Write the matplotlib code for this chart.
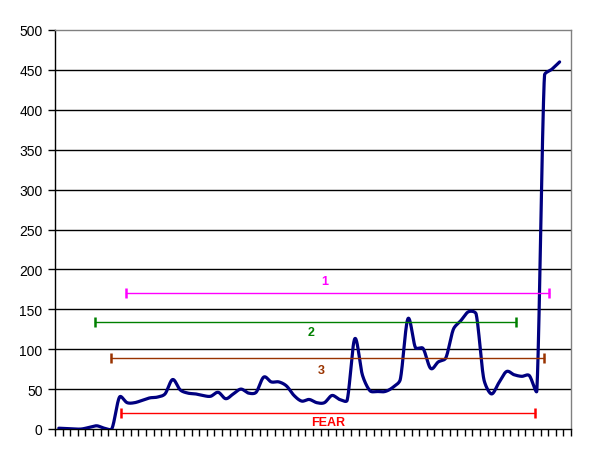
import numpy as np
import matplotlib
matplotlib.use("Agg")
import matplotlib.pyplot as plt

# ---- data ----
values = [1, 0.5, 0, 0, 2, 4, 1, 0.5, 40, 33, 33, 36, 39, 40, 44, 62, 49, 45, 44, 42,
          41, 46, 38, 44, 50, 45, 46, 65, 59, 59, 54, 42, 35, 37, 33, 33, 42, 37, 36, 113,
          68, 48, 47, 47, 52, 62, 138, 102, 101, 76, 84, 89, 125, 136, 147, 144, 63, 44, 58, 72,
          68, 66, 67, 48, 443, 451, 460]
n_categories = 68

range_labels = ["1", "2", "3", "FEAR"]
range_start = [8.85, 4.73, 6.87, 8.15]
range_end = [64.55, 60.2, 63.9, 62.75]
range_level = [171, 134, 89, 20]
label_x = [35.05, 33.3, 34.6, 35.45]
label_y = [186, 121, 74, 9]
range_colors = ["#FF00FF", "#008000", "#993300", "#FF0000"]

yticks = list(range(0, 501, 50))

plt.rcParams['font.family'] = ['Liberation Sans', 'DejaVu Sans']

fig = plt.figure(figsize=(6, 4.6), dpi=100)
ax = fig.add_axes([55/600, 30/460, 516/600, 399/460])
ax.set_xlim(-0.5, n_categories - 0.5)
ax.set_ylim(0, 500)


def smooth_display(ax, xs, ys, steps=24, clamp=0.35):
    """Catmull-Rom style smoothing in display space with clamped handles."""
    pts = ax.transData.transform(np.column_stack([xs, ys]))
    n = len(pts)
    out = []
    for i in range(n - 1):
        p1, p2 = pts[i], pts[i + 1]
        p0 = pts[i - 1] if i > 0 else p1
        p3 = pts[i + 2] if i + 2 < n else p2
        seg = np.linalg.norm(p2 - p1)
        h1 = (p2 - p0) / 6
        h2 = (p3 - p1) / 6
        l1 = np.linalg.norm(h1)
        l2 = np.linalg.norm(h2)
        lim = clamp * seg
        if l1 > lim and l1 > 0:
            h1 = h1 * lim / l1
        if l2 > lim and l2 > 0:
            h2 = h2 * lim / l2
        c1 = p1 + h1
        c2 = p2 - h2
        t = np.linspace(0, 1, steps, endpoint=(i == n - 2))[:, None]
        seg_pts = ((1 - t) ** 3) * p1 + 3 * ((1 - t) ** 2) * t * c1 + 3 * (1 - t) * t ** 2 * c2 + t ** 3 * p2
        out.append(seg_pts)
    out = np.vstack(out)
    data = ax.transData.inverted().transform(out)
    return data[:, 0], data[:, 1]


xs = np.arange(len(values))
sx, sy = smooth_display(ax, xs, values)

for y in yticks[1:-1]:
    ax.axhline(y, color="black", lw=1.0, zorder=1)

ax.plot(sx, sy, color="#000080", lw=2.3, zorder=3, solid_capstyle="round")

for lab, s, e, lv, lx, ly, c in zip(range_labels, range_start, range_end, range_level,
                                     label_x, label_y, range_colors):
    ax.plot([s, e], [lv, lv], color=c, lw=1.0, zorder=4)
    ax.plot([s, e], [lv, lv], ls="none", marker="|", markersize=7.5, mew=1.8, color=c, zorder=4)
    ax.text(lx, ly, lab, color=c, fontsize=9, fontweight="bold", ha="center", va="center", zorder=5)

ax.set_yticks(yticks)
ax.set_yticklabels([str(v) for v in yticks], fontsize=10)
ax.set_xticks(np.arange(n_categories + 1) - 0.5)
ax.set_xticklabels([])
ax.tick_params(axis="y", direction="out", length=5, width=1, pad=4, colors="black")
ax.tick_params(axis="x", direction="out", length=5, width=1)

for side in ["left", "bottom"]:
    ax.spines[side].set_color("black")
    ax.spines[side].set_linewidth(1.0)
for side in ["top", "right"]:
    ax.spines[side].set_color("#808080")
    ax.spines[side].set_linewidth(1.0)

fig.savefig("out.png", dpi=100)
